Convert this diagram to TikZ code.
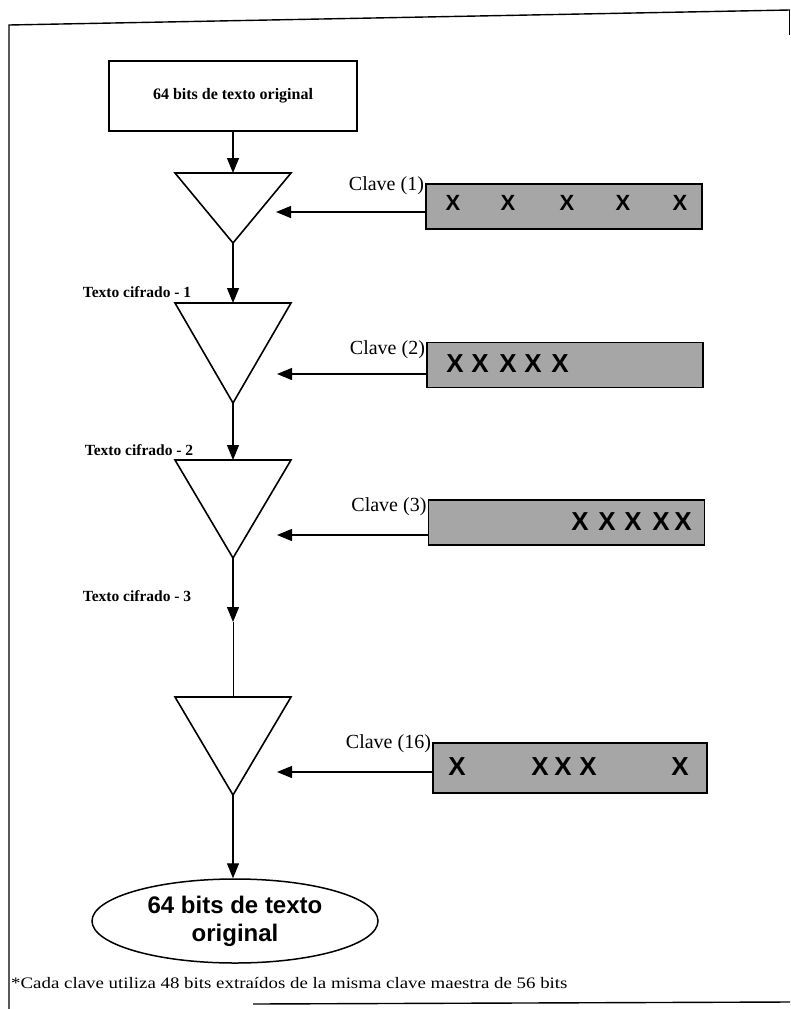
\documentclass[tikz,border=0pt]{standalone}
\usepackage{fontspec}
\setmainfont{Liberation Serif}
\newfontfamily\arialfont{Liberation Sans}
\newfontfamily\anchafont[FakeStretch=1.18]{Liberation Serif}
\usetikzlibrary{arrows.meta,shapes.geometric,calc,positioning}

\begin{document}
\begin{tikzpicture}[x=1pt,y=-1pt,>={Triangle[length=15pt,width=12pt]}]
    \tikzset{
        a/.style={->, line width=1.2pt},
        tri/.style={line width=1.6pt, line join=miter},
        clave/.style={draw, line width=1.8pt, fill=black!35, minimum width=276pt, minimum height=45pt, inner sep=0pt},
        lbl/.style={font=\fontsize{15.5}{17}\selectfont\bfseries, inner sep=0pt},
        klbl/.style={font=\fontsize{20}{22}\selectfont, anchor=east, inner sep=1pt},
        xx/.style={font=\arialfont\bfseries\fontsize{26}{26}\selectfont, inner sep=0pt},
    }
    \useasboundingbox (0,0) rectangle (790,1009);

    % marco
    \draw[line width=1.4pt] (9,1009) -- (9,25) -- (790,10);
    \draw[line width=1pt] (789,10) -- (789,35);
    \draw[line width=1.4pt] (253,1004) -- (790,1002);

    \node[draw, line width=1.5pt, minimum width=248pt, minimum height=70pt, inner sep=0pt, font=\fontsize{16}{18}\selectfont\bfseries] (entrada) at (233,96) {64 bits de texto original};

    % rondas
    \coordinate (t1) at (233,173); \coordinate (t1a) at (233,243);
    \coordinate (t2) at (233,303); \coordinate (t2a) at (233,403);
    \coordinate (t3) at (233,460); \coordinate (t3a) at (233,558);
    \coordinate (t4) at (233,697); \coordinate (t4a) at (233,795);
    \foreach \t in {t1,t2,t3,t4}
        \draw[tri] ($(\t)+(-58,0)$) -- ($(\t)+(58,0)$) -- (\t a) -- cycle;

    \draw [a] (entrada.south) -- (t1);
    \draw [a] (t1a) -- (t2);
    \draw [a] (t2a) -- (t3);
    \coordinate (c3fin) at (233,622);
    \draw [a] (t3a) -- (c3fin);
    \draw [line width=0.8pt] (c3fin) -- (t4);

    \node[lbl] (cif1) at (137,292) {Texto cifrado - 1};
    \node[lbl] (cif2) at (139,450) {Texto cifrado - 2};
    \node[lbl] (cif3) at (137,596) {Texto cifrado - 3};

    % claves
    \node[clave] (k1) at (564,206.5) {};
    \node[clave] (k2) at (565,365) {};
    \node[clave] (k3) at (566.5,522.5) {};
    \node[clave, minimum width=274pt, minimum height=50pt] (k4) at (570,768) {};

    \foreach \x in {453,508,567,623,680}
        \node[xx, font=\arialfont\bfseries\fontsize{22}{22}\selectfont] (xa\x) at (\x,203) {X};
    \foreach \x in {455,480,508,533,560}
        \node[xx] (xb\x) at (\x,364) {X};
    \foreach \x in {580,607,633,661,683}
        \node[xx] (xc\x) at (\x,522) {X};
    \foreach \x in {457,540,563,588,680}
        \node[xx] (xd\x) at (\x,767) {X};

    \node[klbl] (kl1) at ([yshift=-3pt]k1.north west) {Clave (1)};
    \node[klbl] (kl2) at ([yshift=-8pt]k2.north west) {Clave (2)};
    \node[klbl] (kl3) at ([yshift=-8pt]k3.north west) {Clave (3)};
    \node[klbl] (kl4) at ([yshift=-2pt]k4.north west) {Clave (16)};

    \coordinate (e1) at (276,212);
    \coordinate (e2) at (277,374);
    \coordinate (e3) at (277,535);
    \coordinate (e4) at (277,772);
    \foreach \i in {1,2,3,4}
        \draw [a] (k\i.west |- e\i) -- (e\i);

    \node[draw, ellipse, line width=1.5pt, minimum width=286pt, minimum height=84pt, inner sep=0pt, align=center, font=\arialfont\bfseries\fontsize{24}{28}\selectfont] (salida) at (235,921) {64 bits de texto\\original};
    \draw [a] (t4a) -- (t4a |- salida.north);

    \node[anchor=base west, inner sep=0pt, font=\anchafont\fontsize{16}{18}\selectfont] (nota) at (11,988) {*Cada clave utiliza 48 bits extraídos de la misma clave maestra de 56 bits};
\end{tikzpicture}
\end{document}
